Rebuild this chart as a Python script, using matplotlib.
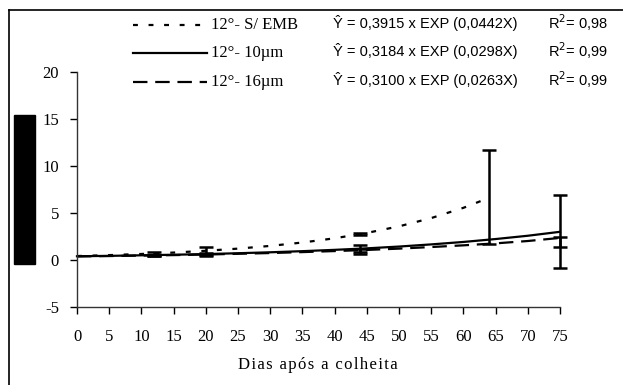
import matplotlib
matplotlib.use("Agg")
import matplotlib.pyplot as plt
from matplotlib.lines import Line2D
from matplotlib.patches import Rectangle

plt.rcParams["axes.unicode_minus"] = False

# Fitted curves, sampled every 5 days (values read as plotted)
semb_days = [0, 5, 10, 15, 20, 25, 30, 35, 40, 45, 50, 55, 60, 64]
semb_vals = [0.42, 0.52, 0.64, 0.79, 0.98, 1.21, 1.50, 1.86, 2.31, 2.88, 3.58, 4.46, 5.55, 6.62]
um10_days = [0, 5, 10, 15, 20, 25, 30, 35, 40, 45, 50, 55, 60, 65, 70, 75]
um10_vals = [0.40, 0.44, 0.50, 0.56, 0.63, 0.72, 0.82, 0.94, 1.08, 1.24, 1.43, 1.66, 1.92, 2.23, 2.58, 3.00]
um16_days = [0, 5, 10, 15, 20, 25, 30, 35, 40, 45, 50, 55, 60, 65, 70, 75]
um16_vals = [0.38, 0.42, 0.47, 0.52, 0.58, 0.66, 0.74, 0.84, 0.95, 1.07, 1.21, 1.38, 1.56, 1.77, 2.02, 2.35]

# Observed means with error half-widths
semb_err_days = [12, 20, 44, 64]
semb_err_mean = [0.66, 0.95, 2.80, 6.65]
semb_err = [0.22, 0.45, 0.10, 5.00]
um10_err_days = [20, 44, 75]
um10_err_mean = [0.62, 1.10, 3.00]
um10_err = [0.15, 0.50, 3.90]
um16_err_days = [12, 44, 75]
um16_err_mean = [0.45, 1.00, 1.90]
um16_err = [0.05, 0.12, 0.50]

labels = ["12°- S/ EMB", "12°- 10µm", "12°- 16µm"]
equations = ["Ŷ = 0,3915 x EXP (0,0442X)",
             "Ŷ = 0,3184 x EXP (0,0298X)",
             "Ŷ = 0,3100 x EXP (0,0263X)"]
r2_values = ["0,98", "0,99", "0,99"]
x_label = "Dias após a colheita"

x_ticks = list(range(0, 80, 5))
y_ticks = [-5, 0, 5, 10, 15, 20]

W, H = 623, 385
fig = plt.figure(figsize=(W / 100, H / 100), dpi=100)
serif = ["Liberation Serif", "DejaVu Serif"]
sans = "Liberation Sans"

ax = fig.add_axes([77 / W, 1 - 307 / H, (560 - 77) / W, (307 - 72) / H])
ax.set_xlim(0, 75)
ax.set_ylim(-5, 20)

dot_style = dict(color="black", lw=1.6, linestyle=(0, (2.2, 4.8)))
solid_style = dict(color="black", lw=1.6, linestyle="-")
dash_style = dict(color="black", lw=1.6, linestyle=(0, (6.5, 3.5)))

ax.plot(semb_days, semb_vals, clip_on=False, **dot_style)
ax.plot(um10_days, um10_vals, clip_on=False, **solid_style)
ax.plot(um16_days, um16_vals, clip_on=False, **dash_style)

eb = dict(fmt="none", ecolor="black", elinewidth=1.8, capsize=5, capthick=1.8)
for d, m, e in [(semb_err_days, semb_err_mean, semb_err),
                (um10_err_days, um10_err_mean, um10_err),
                (um16_err_days, um16_err_mean, um16_err)]:
    container = ax.errorbar(d, m, yerr=e, **eb)
    for art in container.get_children():
        art.set_clip_on(False)

for side in ("top", "right"):
    ax.spines[side].set_visible(False)
for side in ("left", "bottom"):
    ax.spines[side].set_color("#333333")
    ax.spines[side].set_linewidth(1.0)

ax.set_xticks(x_ticks)
ax.set_yticks(y_ticks)
ax.tick_params(axis="x", direction="out", length=5, width=1.0, pad=11, labelsize=12)
ax.tick_params(axis="y", direction="out", length=5, width=1.0, pad=8, labelsize=12)
for lab in ax.get_xticklabels() + ax.get_yticklabels():
    lab.set_fontfamily(serif)

# Axis title with slightly spread letters
spread_label = "\u200a".join(x_label)
fig.text(318 / W, 1 - 365 / H, spread_label, family=serif, fontsize=12,
         ha="center", va="center")

# Legend block with equations
rows_y = [25, 53, 82]
styles = [dot_style, solid_style, dash_style]
for y, st, lab, eq, r2 in zip(rows_y, styles, labels, equations, r2_values):
    fy = 1 - y / H
    fig.add_artist(Line2D([133 / W, 207 / W], [fy, fy], transform=fig.transFigure, **st))
    fig.text(211 / W, fy, lab, family=serif, fontsize=12, ha="left", va="center")
    fig.text(333 / W, fy + 0.006, eq, family=sans, fontsize=10.5, ha="left", va="center")
    fig.text(548 / W, fy + 0.006, "R$^2$= " + r2, family=sans, fontsize=10.5,
             ha="left", va="center")

# Black block on the left and the outer frame
fig.add_artist(Rectangle((14 / W, 1 - 264 / H), 21 / W, 149 / H,
                         transform=fig.transFigure, color="black"))
fig.add_artist(Line2D([9 / W, 9 / W], [0, 1 - 10 / H], transform=fig.transFigure,
                      color="black", lw=1.2))
fig.add_artist(Line2D([9 / W, 1], [1 - 10 / H, 1 - 10 / H], transform=fig.transFigure,
                      color="black", lw=1.2))

fig.savefig("out.png", dpi=100)
